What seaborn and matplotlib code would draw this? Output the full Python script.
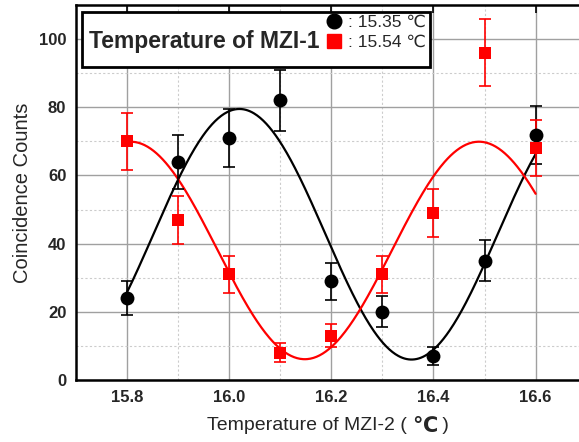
import numpy as np
import pandas as pd
import matplotlib
matplotlib.use("Agg")
import matplotlib.pyplot as plt
from matplotlib.lines import Line2D
from matplotlib.patches import Rectangle
from matplotlib.ticker import MultipleLocator
import seaborn as sns

# ---- data ----
temps = [15.8, 15.9, 16.0, 16.1, 16.2, 16.3, 16.4, 16.5, 16.6]
counts_1535 = [24, 64, 71, 82, 29, 20, 7, 35, 72]
err_1535 = [5, 8, 8.5, 9, 5.4, 4.5, 2.6, 6, 8.5]
counts_1554 = [70, 47, 31, 8, 13, 31, 49, 96, 68]
err_1554 = [8.4, 7, 5.5, 2.8, 3.3, 5.5, 7, 9.8, 8.3]

# sinusoidal fit parameters (offset, amplitude, period, peak position)
fit_1535 = dict(offset=42.75, amp=36.75, period=0.674, peak=16.02)
fit_1554 = dict(offset=38.0, amp=31.9, period=0.682, peak=16.489)
fit_range = (15.8, 16.6)

legend_labels = [": 15.35 \u2103", ": 15.54 \u2103"]
box_title = "Temperature of MZI-1"
xlabel_main = "Temperature of MZI-2 ( "
xlabel_unit = "\u2103"
xlabel_end = " )"
ylabel = "Coincidence Counts"

sns.set_theme(style="white")
plt.rcParams['font.family'] = ['Liberation Sans', 'DejaVu Sans']

fig = plt.figure(figsize=(5.79, 4.42), dpi=100)
W, H = 579, 442
ax_l, ax_r, ax_t, ax_b = 76, 586.7, 5, 380
ax = fig.add_axes([ax_l / W, 1 - ax_b / H, (ax_r - ax_l) / W, (ax_b - ax_t) / H])

def fit_curve(p):
    xs = np.linspace(fit_range[0], fit_range[1], 400)
    ys = p['offset'] + p['amp'] * np.cos(2 * np.pi * (xs - p['peak']) / p['period'])
    return pd.DataFrame({'x': xs, 'y': ys})

c1 = fit_curve(fit_1535)
c2 = fit_curve(fit_1554)
sns.lineplot(data=c1, x='x', y='y', color='black', lw=1.6, ax=ax, zorder=3)
sns.lineplot(data=c2, x='x', y='y', color='red', lw=1.6, ax=ax, zorder=3)

ax.errorbar(temps, counts_1535, yerr=err_1535, fmt='none', ecolor='black',
            elinewidth=1.2, capsize=4, capthick=1.2, zorder=4)
ax.errorbar(temps, counts_1554, yerr=err_1554, fmt='none', ecolor='red',
            elinewidth=1.2, capsize=4, capthick=1.2, zorder=4)
df1 = pd.DataFrame({'x': temps, 'y': counts_1535})
df2 = pd.DataFrame({'x': temps, 'y': counts_1554})
sns.scatterplot(data=df1, x='x', y='y', marker='o', s=100, color='black',
                edgecolor='black', linewidth=0, ax=ax, zorder=5)
sns.scatterplot(data=df2, x='x', y='y', marker='s', s=80, color='red',
                edgecolor='red', linewidth=0, ax=ax, zorder=5)

ax.set_xlim(15.7, 16.7)
ax.set_ylim(0, 110)
ax.xaxis.set_minor_locator(MultipleLocator(0.1))
ax.yaxis.set_minor_locator(MultipleLocator(10))
ax.set_xticks([15.8, 16.0, 16.2, 16.4, 16.6])
ax.set_xticklabels(['15.8', '16.0', '16.2', '16.4', '16.6'])
ax.set_yticks([0, 20, 40, 60, 80, 100])
ax.set_yticklabels(['0', '20', '40', '60', '80', '100'])
ax.grid(which='major', color='#a0a0a0', lw=1.0, ls='-')
ax.grid(which='minor', color='#cccccc', lw=0.8, ls=(0, (2, 2)))
ax.set_axisbelow(True)
ax.tick_params(axis='both', which='major', direction='in', length=6, width=1.2,
               color='black', top=True, right=True, labelsize=12, pad=7)
ax.tick_params(axis='both', which='minor', length=0)
for lab in ax.get_xticklabels() + ax.get_yticklabels():
    lab.set_fontweight('bold')
for s in ax.spines.values():
    s.set_color('black')
    s.set_linewidth(1.8)

ax.set_xlabel('')
ax.set_ylabel(ylabel, fontsize=14.5, labelpad=5)

# x label with bold unit, assembled left to right
fig.canvas.draw()
renderer = fig.canvas.get_renderer()
y_lab = 1 - 426 / H
t1 = fig.text(206.7 / W, y_lab, xlabel_main, fontsize=14, ha='left', va='center')
bb = t1.get_window_extent(renderer)
t2 = fig.text(bb.x1 / W, y_lab, xlabel_unit, fontsize=15, fontweight='bold',
              ha='left', va='center')
bb2 = t2.get_window_extent(renderer)
fig.text(bb2.x1 / W, y_lab, xlabel_end, fontsize=14, ha='left', va='center')

# legend box
bx0, bx1 = (81.7 - ax_l) / (ax_r - ax_l), (430 - ax_l) / (ax_r - ax_l)
by1, by0 = (ax_b - 11.7) / (ax_b - ax_t), (ax_b - 66.7) / (ax_b - ax_t)
ax.add_patch(Rectangle((bx0, by0), bx1 - bx0, by1 - by0, transform=ax.transAxes,
                       facecolor='white', edgecolor='black', lw=2.0, zorder=10,
                       clip_on=False))
ax.text((89.3 - ax_l) / (ax_r - ax_l), (ax_b - 41) / (ax_b - ax_t), box_title,
        transform=ax.transAxes, fontsize=16.5, fontweight='bold', ha='left',
        va='center', zorder=11)
handles = [Line2D([], [], ls='none', marker='o', ms=10.5, color='black'),
           Line2D([], [], ls='none', marker='s', ms=10, color='red')]
leg = ax.legend(handles, legend_labels, loc='upper left',
                bbox_to_anchor=((325 - ax_l) / (ax_r - ax_l), (ax_b - 15) / (ax_b - ax_t)),
                frameon=False, fontsize=12.5, handlelength=1.0, handletextpad=0.3,
                borderpad=0, borderaxespad=0, labelspacing=0.25)
leg.set_zorder(12)

fig.savefig('out.png', dpi=100, facecolor='white')
